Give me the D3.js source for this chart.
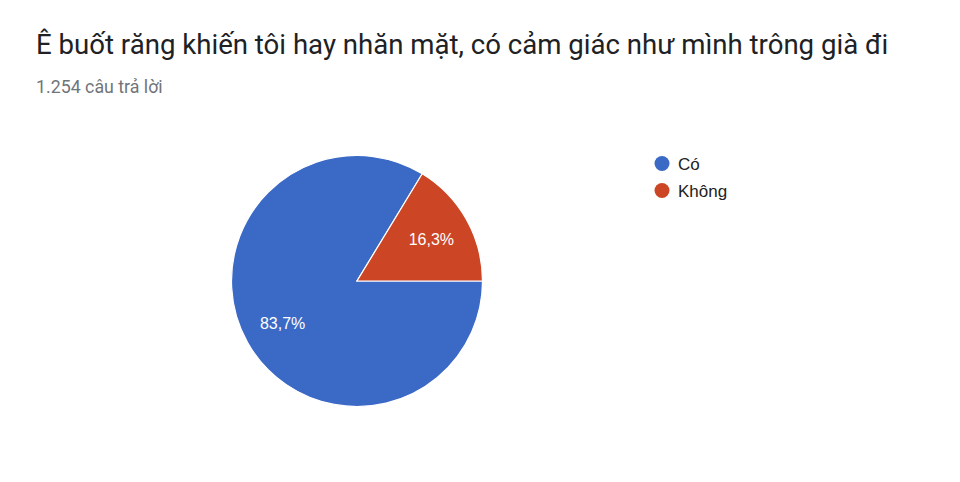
<!DOCTYPE html>
<html>
<head>
<meta charset="utf-8">
<script src="https://cdn.jsdelivr.net/npm/d3@7"></script>
<style>
  body { margin: 0; background: #fff; }
  svg text { font-family: "Liberation Sans", Arial, sans-serif; }
</style>
</head>
<body>
<svg id="chart" width="960" height="482"></svg>
<script>
const title = "Ê buốt răng khiến tôi hay nhăn mặt, có cảm giác như mình trông già đi";
const subtitle = "1.254 câu trả lời";
const categories = ["Có", "Không"];
const values = [83.7, 16.3];
const colors = ["#3b69c6", "#cc4525"];

const svg = d3.select("#chart");

// header
svg.append("text")
    .attr("x", 36).attr("y", 54)
    .style("font-family", "Roboto, sans-serif")
    .style("font-size", "27.6px")
    .attr("fill", "#202124")
    .text(title);

svg.append("text")
    .attr("x", 36).attr("y", 93)
    .style("font-family", "Roboto, sans-serif")
    .style("font-size", "17.8px")
    .attr("fill", "#70757a")
    .text(subtitle);

// pie
const cx = 357, cy = 281, r = 125.5;
const data = categories.map((c, i) => ({ name: c, value: values[i] }));

const pie = d3.pie()
    .value(d => d.value)
    .sort(null)
    .startAngle(Math.PI / 2)
    .endAngle(Math.PI / 2 + 2 * Math.PI);

const arc = d3.arc().innerRadius(0).outerRadius(r);
const labelArc = d3.arc().innerRadius(r * 0.68).outerRadius(r * 0.68);

const g = svg.append("g").attr("transform", `translate(${cx},${cy})`);

g.selectAll("path")
    .data(pie(data))
    .enter().append("path")
    .attr("d", arc)
    .attr("fill", (d, i) => colors[i])
    .attr("stroke", "#fff")
    .attr("stroke-width", 1.2);

g.selectAll(".lbl")
    .data(pie(data))
    .enter().append("text")
    .attr("class", "lbl")
    .attr("transform", d => `translate(${labelArc.centroid(d)})`)
    .attr("dy", "0.36em")
    .attr("text-anchor", "middle")
    .style("font-size", "16px")
    .attr("fill", "#fff")
    .text(d => d.data.value.toFixed(1).replace(".", ",") + "%");

// legend
const legend = svg.append("g").attr("transform", "translate(662,163.5)");
const item = legend.selectAll("g")
    .data(categories)
    .enter().append("g")
    .attr("transform", (d, i) => `translate(0,${i * 27})`);

item.append("circle")
    .attr("r", 7.5)
    .attr("fill", (d, i) => colors[i]);

item.append("text")
    .attr("x", 16)
    .attr("dy", "0.36em")
    .style("font-size", "17px")
    .attr("fill", "#222")
    .text(d => d);
</script>
</body>
</html>
